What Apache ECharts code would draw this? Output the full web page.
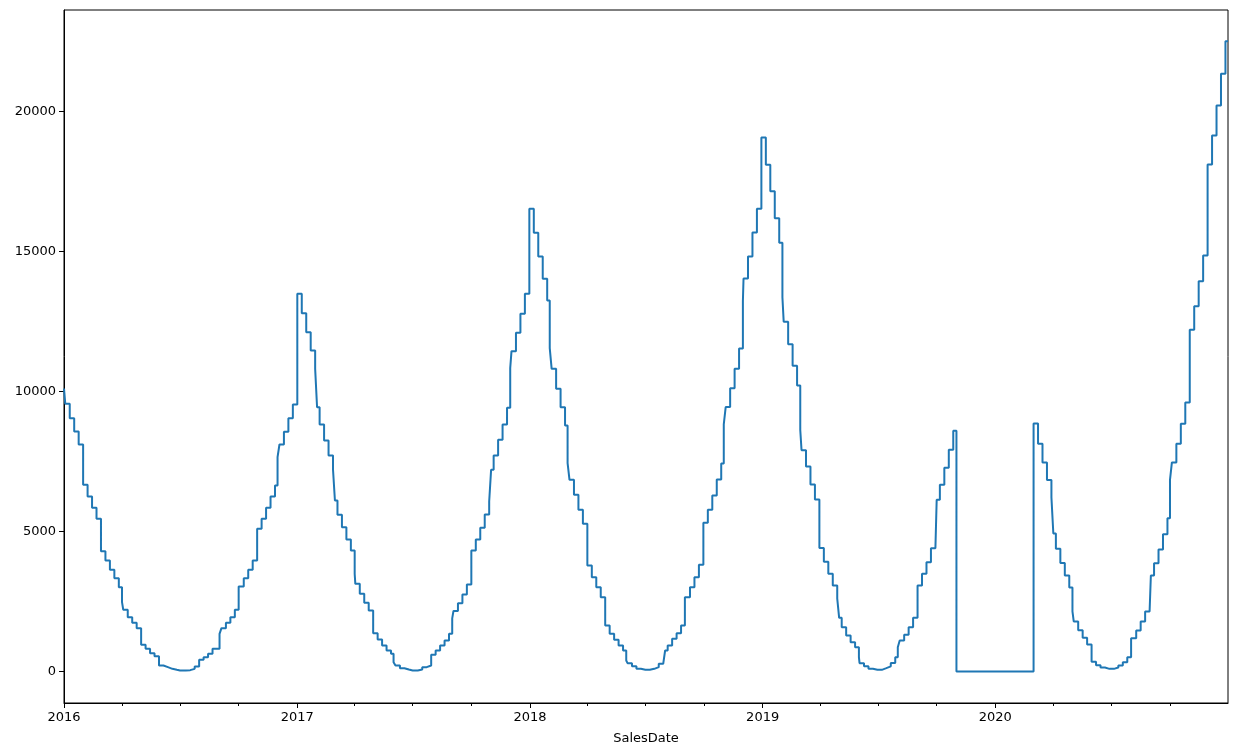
<!DOCTYPE html>
<html>
<head>
<meta charset="utf-8">
<script src="https://cdn.jsdelivr.net/npm/echarts@6/dist/echarts.min.js"></script>
<style>
html,body{margin:0;padding:0;background:#ffffff;}
#chart{width:1236px;height:756px;}
</style>
</head>
<body>
<div id="chart"></div>
<script>
// ---------------- data ----------------
// Value holding from each Sunday (weeks start 2016-01-03)
const firstSunday = '2016-01-03';
const sundaySales2016 = [9560,9048,8571,8107,6667,6250,5845,5452,4298,3964,3631,3333,3012,2202,1940,1738,1548,952,810,655,548,214,155,95,60,36,36,48,95,178,417,512,631,810,810,1548,1738,1940,2202,3036,3333,3631,3964,5095,5452,5845,6250,6642,8107,8559,9047,9535];
const sundaySales2017 = [13488,12797,12119,11464,10809,8821,8250,7714,7214,5595,5155,4714,4321,3131,2774,2452,2178,1369,1143,929,750,631,214,119,71,36,36,71,155,214,595,750,929,1107,1345,2165,2441,2750,3107,4321,4714,5131,5607,6072,7714,8274,8822,9417,11441,12096,12774,13488];
const sundaySales2018 = [16524,15667,14822,14024,13250,10810,10096,9441,8786,6845,6310,5774,5274,3786,3369,3012,2655,1643,1345,1131,929,750,298,190,95,60,60,95,155,274,333,929,1167,1369,1643,2650,3012,3369,3810,5310,5780,6289,6853,7431,9445,10117,10815,11540,14038,14817,15677,16523];
const sundaySales2019 = [19075,18094,17154,16187,15314,12494,11688,10923,10211,7901,7324,6679,6142,4409,3920,3492,3071,2600,1583,1286,1048,869,298,191,95,60,60,120,185,300,512,1107,1310,1584,1917,3071,3488,3905,4400,4400,6670,7274,7917,8600,0,0,0,0,0,0,0,0];
const sundaySales2020 = [0,0,0,0,0,0,0,0,0,8856,8130,7464,6835,6220,4384,3876,3432,3000,1790,1470,1207,960,347,220,141,94,94,141,214,333,512,1190,1464,1786,2143,2143,3869,4357,4905,5476,7465,8131,8846,9607,12203,13048,13941,14857,18107,19143,20214,21345,22512];

// Value holding from the 1st of each month (until the next Sunday)
const monthStartSales2016 = [10100,6667,4298,2476,952,214,36,417,1345,3036,5095,7654];
const monthStartSales2017 = [13488,9440,6107,3488,1369,333,36,595,1900,4321,7202,10834];
const monthStartSales2018 = [16524,11548,7441,3786,1643,393,60,750,2650,5310,8828,13233];
const monthStartSales2019 = [19075,13367,8626,4409,1917,512,60,869,3071,6131,0,0];
const monthStartSales2020 = [0,0,8856,4927,2150,347,94,1190,3429,6845,12203,18107];

const firstDate = '2016-01-01';
const lastDate = '2020-12-31';
const yearLabels = ['2016','2017','2018','2019','2020'];
const yTickValues = [0,5000,10000,15000,20000];

// ---------------- build ----------------
const DAY = 86400000;
const utc = s => { const p = s.split('-').map(Number); return Date.UTC(p[0], p[1]-1, p[2]); };
const sundays = [].concat(sundaySales2016, sundaySales2017, sundaySales2018, sundaySales2019, sundaySales2020);
const monthStarts = [].concat(monthStartSales2016, monthStartSales2017, monthStartSales2018, monthStartSales2019, monthStartSales2020);

const points = new Map();
const sun0 = utc(firstSunday);
sundays.forEach((v, j) => points.set(sun0 + 7 * j * DAY, v));
monthStarts.forEach((v, m) => points.set(Date.UTC(2016 + Math.floor(m / 12), m % 12, 1), v));
points.set(utc(lastDate), sundays[sundays.length - 1]);
const seriesData = Array.from(points.entries()).sort((a, b) => a[0] - b[0]);

const yearTicks = yearLabels.map(y => Date.UTC(+y, 0, 1));
const quarterTicks = [];
yearLabels.forEach(y => { [3, 6, 9].forEach(mo => quarterTicks.push(Date.UTC(+y, mo, 1))); });

const xMin = utc(firstDate), xMax = utc(lastDate);
const FONT = 'DejaVu Sans';

const chart = echarts.init(document.getElementById('chart'), null, {renderer: 'canvas'});
chart.setOption({
  animation: false,
  backgroundColor: '#ffffff',
  grid: {left: 64, top: 10, width: 1164, height: 693, show: true, borderColor: '#000', borderWidth: 1, backgroundColor: 'transparent', containLabel: false},
  xAxis: [{
    type: 'value', min: xMin, max: xMax, scale: true,
    axisLine: {show: true, onZero: false, lineStyle: {color: '#000', width: 1}},
    axisTick: {show: true, customValues: yearTicks, length: 5, lineStyle: {color: '#000', width: 1}},
    axisLabel: {show: true, customValues: yearTicks, formatter: v => String(new Date(v).getUTCFullYear()), color: '#000', fontFamily: FONT, fontSize: 13, margin: 8},
    splitLine: {show: false},
    name: 'SalesDate', nameLocation: 'middle', nameGap: 29,
    nameTextStyle: {color: '#000', fontFamily: FONT, fontSize: 13}
  }, {
    type: 'value', min: xMin, max: xMax, scale: true, position: 'bottom', gridIndex: 0,
    axisLine: {show: false, onZero: false},
    axisTick: {show: true, customValues: quarterTicks, length: 3, lineStyle: {color: '#000', width: 1}},
    axisLabel: {show: false},
    splitLine: {show: false}
  }],
  yAxis: {
    type: 'value', min: -1125, max: 23625,
    axisLine: {show: true, lineStyle: {color: '#000', width: 1}},
    axisTick: {show: true, customValues: yTickValues, length: 5, lineStyle: {color: '#000', width: 1}},
    axisLabel: {show: true, customValues: yTickValues, formatter: v => String(v), color: '#000', fontFamily: FONT, fontSize: 13, margin: 8},
    splitLine: {show: false}
  },
  series: [{
    type: 'line', xAxisIndex: 0, yAxisIndex: 0,
    step: 'end', showSymbol: false, symbol: 'none',
    lineStyle: {color: '#1f77b4', width: 2},
    itemStyle: {color: '#1f77b4'},
    data: seriesData
  }]
});
</script>
</body>
</html>
